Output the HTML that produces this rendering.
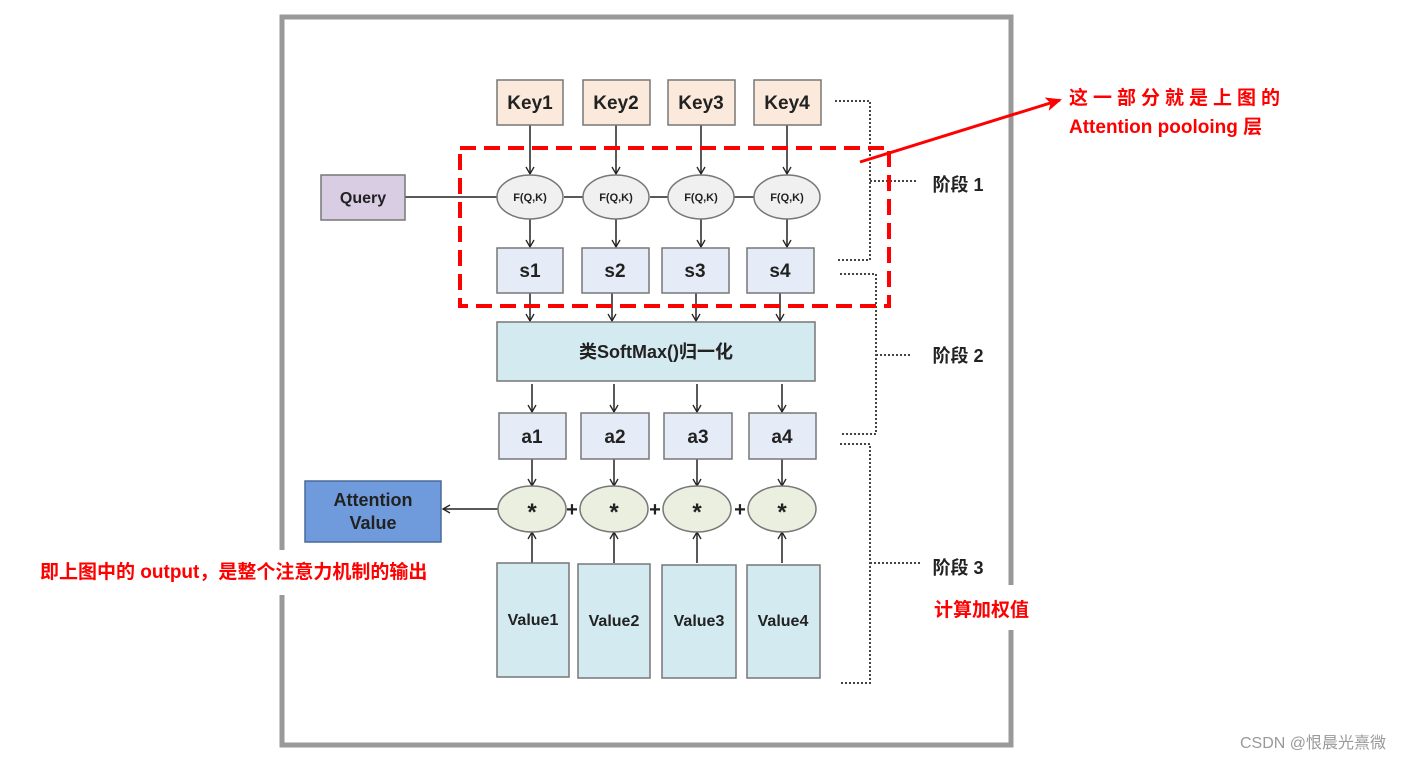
<!DOCTYPE html>
<html><head><meta charset="utf-8"><style>
html,body{margin:0;padding:0;background:#fff;}
svg{display:block}
text{font-family:"Liberation Sans","Noto Sans CJK SC",sans-serif;}
</style></head><body>
<svg width="1427" height="761" viewBox="0 0 1427 761" xmlns="http://www.w3.org/2000/svg">
<defs>
<marker id="ar" markerWidth="10" markerHeight="10" refX="8" refY="5" orient="auto" markerUnits="userSpaceOnUse"><path d="M1,1 L8,5 L1,9" fill="none" stroke="#222" stroke-width="1.3"/></marker>
<marker id="rar" markerWidth="16" markerHeight="14" refX="14" refY="7" orient="auto" markerUnits="userSpaceOnUse"><path d="M0,0 L16,7 L0,14 L4,7z" fill="#f00"/></marker>
</defs>
<rect x="282" y="17" width="729" height="728" fill="none" stroke="#999" stroke-width="5"/>
<rect x="270" y="550" width="20" height="45" fill="#fff"/>
<rect x="1000" y="585" width="20" height="45" fill="#fff"/>
<g stroke="#222" stroke-width="1.5" fill="none">
<line x1="405" y1="197" x2="498" y2="197"/>
<line x1="564" y1="197" x2="584" y2="197"/>
<line x1="650" y1="197" x2="668" y2="197"/>
<line x1="734" y1="197" x2="754" y2="197"/>
<g marker-end="url(#ar)">
<line x1="530" y1="125" x2="530" y2="174"/><line x1="616" y1="125" x2="616" y2="174"/><line x1="701" y1="125" x2="701" y2="174"/><line x1="787" y1="125" x2="787" y2="174"/>
<line x1="530" y1="219" x2="530" y2="247"/><line x1="616" y1="219" x2="616" y2="247"/><line x1="701" y1="219" x2="701" y2="247"/><line x1="787" y1="219" x2="787" y2="247"/>
<line x1="530" y1="293" x2="530" y2="321"/><line x1="612" y1="293" x2="612" y2="321"/><line x1="696" y1="293" x2="696" y2="321"/><line x1="780" y1="293" x2="780" y2="321"/>
<line x1="532" y1="384" x2="532" y2="412"/><line x1="614" y1="384" x2="614" y2="412"/><line x1="697" y1="384" x2="697" y2="412"/><line x1="782" y1="384" x2="782" y2="412"/>
<line x1="532" y1="459" x2="532" y2="486"/><line x1="614" y1="459" x2="614" y2="486"/><line x1="697" y1="459" x2="697" y2="486"/><line x1="782" y1="459" x2="782" y2="486"/>
<line x1="532" y1="563" x2="532" y2="532"/><line x1="614" y1="563" x2="614" y2="532"/><line x1="697" y1="563" x2="697" y2="532"/><line x1="782" y1="563" x2="782" y2="532"/>
<line x1="499" y1="509" x2="443" y2="509"/>
</g>
</g>
<g stroke="#777" stroke-width="1.5">
<rect x="497" y="80" width="66" height="45" fill="#fbeadb"/>
<rect x="583" y="80" width="67" height="45" fill="#fbeadb"/>
<rect x="668" y="80" width="67" height="45" fill="#fbeadb"/>
<rect x="754" y="80" width="67" height="45" fill="#fbeadb"/>
<rect x="321" y="175" width="84" height="45" fill="#d8cde3"/>
<ellipse cx="530" cy="197" rx="33" ry="22" fill="#f0f0f0"/>
<ellipse cx="616" cy="197" rx="33" ry="22" fill="#f0f0f0"/>
<ellipse cx="701" cy="197" rx="33" ry="22" fill="#f0f0f0"/>
<ellipse cx="787" cy="197" rx="33" ry="22" fill="#f0f0f0"/>
<rect x="497" y="248" width="66" height="45" fill="#e6ecf7"/>
<rect x="582" y="248" width="67" height="45" fill="#e6ecf7"/>
<rect x="662" y="248" width="67" height="45" fill="#e6ecf7"/>
<rect x="747" y="248" width="67" height="45" fill="#e6ecf7"/>
<rect x="497" y="322" width="318" height="59" fill="#d3eaf0"/>
<rect x="499" y="413" width="67" height="46" fill="#e6ecf7"/>
<rect x="581" y="413" width="68" height="46" fill="#e6ecf7"/>
<rect x="664" y="413" width="68" height="46" fill="#e6ecf7"/>
<rect x="749" y="413" width="67" height="46" fill="#e6ecf7"/>
<ellipse cx="532" cy="509" rx="34" ry="23" fill="#eaefdf"/>
<ellipse cx="614" cy="509" rx="34" ry="23" fill="#eaefdf"/>
<ellipse cx="697" cy="509" rx="34" ry="23" fill="#eaefdf"/>
<ellipse cx="782" cy="509" rx="34" ry="23" fill="#eaefdf"/>
<rect x="305" y="481" width="136" height="61" fill="#6f9bdc" stroke="#4a6a9a"/>
<rect x="497" y="563" width="72" height="114" fill="#d3eaf0"/>
<rect x="578" y="564" width="72" height="114" fill="#d3eaf0"/>
<rect x="662" y="565" width="74" height="113" fill="#d3eaf0"/>
<rect x="747" y="565" width="73" height="113" fill="#d3eaf0"/>
</g>
<g font-weight="bold" fill="#222" text-anchor="middle">
<text x="530" y="109" font-size="19">Key1</text><text x="616" y="109" font-size="19">Key2</text><text x="701" y="109" font-size="19">Key3</text><text x="787" y="109" font-size="19">Key4</text>
<text x="363" y="203" font-size="16">Query</text>
<text x="530" y="201" font-size="11">F(Q,K)</text><text x="616" y="201" font-size="11">F(Q,K)</text><text x="701" y="201" font-size="11">F(Q,K)</text><text x="787" y="201" font-size="11">F(Q,K)</text>
<text x="530" y="277" font-size="19">s1</text><text x="615" y="277" font-size="19">s2</text><text x="695" y="277" font-size="19">s3</text><text x="780" y="277" font-size="19">s4</text>
<text x="656" y="358" font-size="18">类SoftMax()归一化</text>
<text x="532" y="443" font-size="19">a1</text><text x="615" y="443" font-size="19">a2</text><text x="698" y="443" font-size="19">a3</text><text x="782" y="443" font-size="19">a4</text>
<text x="532" y="520" font-size="24">*</text><text x="614" y="520" font-size="24">*</text><text x="697" y="520" font-size="24">*</text><text x="782" y="520" font-size="24">*</text>
<text x="572" y="516" font-size="20">+</text><text x="655" y="516" font-size="20">+</text><text x="740" y="516" font-size="20">+</text>
<text x="373" y="506" font-size="18">Attention</text><text x="373" y="529" font-size="18">Value</text>
<text x="533" y="625" font-size="16">Value1</text><text x="614" y="626" font-size="16">Value2</text><text x="699" y="626" font-size="16">Value3</text><text x="783" y="626" font-size="16">Value4</text>
<text x="958" y="191" font-size="18">阶段 1</text>
<text x="958" y="362" font-size="18">阶段 2</text>
<text x="958" y="574" font-size="18">阶段 3</text>
</g>
<g stroke="#444" stroke-width="2" stroke-dasharray="2,2" fill="none">
<polyline points="835,101 870,101 870,260 837,260"/>
<line x1="870" y1="181" x2="917" y2="181"/>
<polyline points="840,274 876,274 876,434 840,434"/>
<line x1="876" y1="355" x2="912" y2="355"/>
<polyline points="840,444 870,444 870,683 840,683"/>
<line x1="870" y1="563" x2="920" y2="563"/>
</g>
<rect x="460" y="148" width="429" height="158" fill="none" stroke="#f00" stroke-width="4" stroke-dasharray="16,8"/>
<line x1="860" y1="162" x2="1060" y2="100" stroke="#f00" stroke-width="3" marker-end="url(#rar)"/>
<g fill="#f00" font-weight="bold" font-size="19">
<text x="1069" y="104" letter-spacing="5">这一部分就是上图的</text>
<text x="1069" y="133">Attention pooloing 层</text>
<text x="40" y="578">即上图中的 output，是整个注意力机制的输出</text>
<text x="934" y="616">计算加权值</text>
</g>
<text x="1240" y="748" font-size="16" fill="#999">CSDN @恨晨光熹微</text>
</svg>
</body></html>
